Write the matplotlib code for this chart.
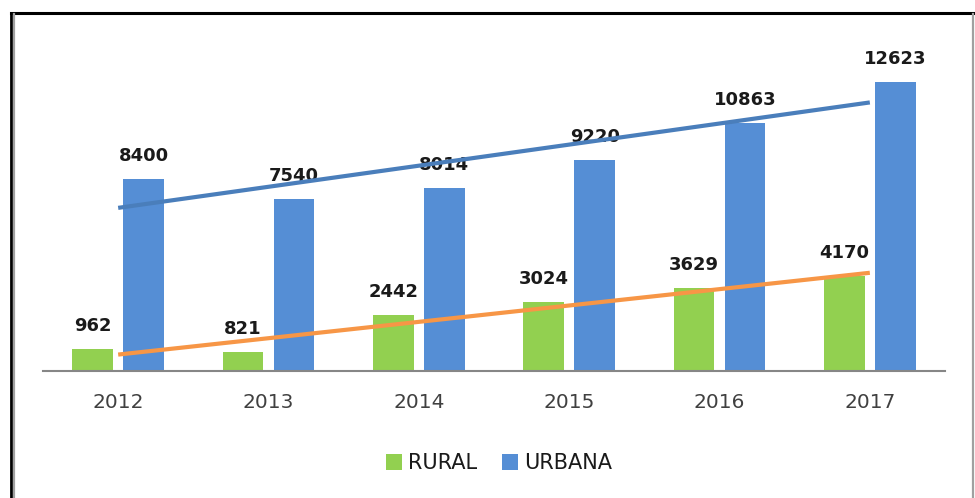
import numpy as np
import matplotlib.pyplot as plt
from matplotlib.lines import Line2D

# data
years = ['2012', '2013', '2014', '2015', '2016', '2017']
rural = [962, 821, 2442, 3024, 3629, 4170]
urbana = [8400, 7540, 8014, 9220, 10863, 12623]

green = '#92D050'
blue = '#558ED5'
trend_blue = '#4A7EBB'
trend_orange = '#F79646'

W, H = 975, 498
fig = plt.figure(figsize=(W / 100, H / 100), dpi=100)
ax = fig.add_axes([43 / W, (H - 371) / H, (945 - 43) / W, 320 / H])

x = np.arange(len(years))
width = 0.27
off = 0.17

bars_r = ax.bar(x - off, rural, width, color=green, label='RURAL', zorder=2)
bars_u = ax.bar(x + off, urbana, width, color=blue, label='URBANA', zorder=2)

# value labels above bars
for bars in (bars_r, bars_u):
    for b in bars:
        ax.annotate(f'{int(b.get_height())}',
                    (b.get_x() + b.get_width() / 2, b.get_height()),
                    xytext=(0, 13), textcoords='offset points',
                    ha='center', va='baseline', fontsize=13,
                    fontweight='bold', color='#1a1a1a', zorder=3)

# linear trendlines
for vals, col in ((rural, trend_orange), (urbana, trend_blue)):
    k, b0 = np.polyfit(x, vals, 1)
    ax.plot(x, k * x + b0, color=col, linewidth=3, solid_capstyle='butt', zorder=4)

ax.set_xlim(-0.5, len(years) - 0.5)
ax.set_ylim(0, 14000)
ax.set_xticks(x)
ax.set_xticklabels(years, fontsize=14.5, color='#404040')
ax.tick_params(axis='x', length=0, pad=16)
ax.set_yticks([])
for s in ('top', 'right', 'left'):
    ax.spines[s].set_visible(False)
ax.spines['bottom'].set_color('#868686')
ax.spines['bottom'].set_linewidth(1.5)

fig.legend(handles=[bars_r, bars_u], labels=['RURAL', 'URBANA'],
           loc='center', bbox_to_anchor=(499 / W, 1 - 463 / H),
           ncol=2, frameon=False, fontsize=15,
           handlelength=0.77, handleheight=0.77, handletextpad=0.3,
           columnspacing=1.2, labelcolor='#1a1a1a')

# outer frame (black top/left, gray shadow)
def fx(px):
    return px / W

def fy(py):
    return 1 - py / H

fig.add_artist(Line2D([fx(11), fx(974)], [fy(13), fy(13)], color='black', linewidth=2.2))
fig.add_artist(Line2D([fx(11), fx(11)], [fy(13), fy(498)], color='black', linewidth=2.0))
fig.add_artist(Line2D([fx(13.8), fx(13.8)], [fy(14), fy(498)], color='#a0a0a0', linewidth=1.6))
fig.add_artist(Line2D([fx(973.3), fx(973.3)], [fy(14), fy(498)], color='#a0a0a0', linewidth=1.6))

fig.savefig('out.png', dpi=100)
